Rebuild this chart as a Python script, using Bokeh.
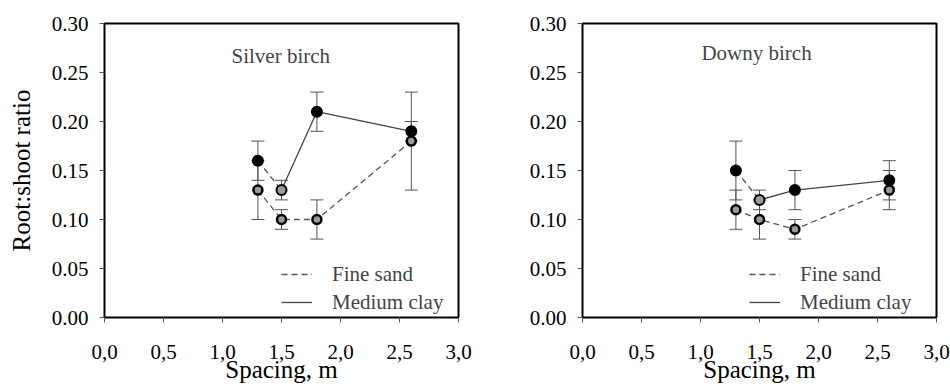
from bokeh.plotting import figure
from bokeh.layouts import row
from bokeh.models import (ColumnDataSource, Whisker, TeeHead, Legend, LegendItem,
                          Label, FixedTicker, CustomJSTickFormatter, Range1d)
from bokeh.embed import file_html
from bokeh.resources import INLINE

# ---- data ----
spacing = [1.3, 1.5, 1.8, 2.6]

silver_fine = [0.13, 0.10, 0.10, 0.18]
silver_fine_err = [0.03, 0.01, 0.02, 0.05]
silver_clay = [0.16, 0.13, 0.21, 0.19]
silver_clay_err = [0.02, 0.01, 0.02, 0.01]

downy_fine = [0.11, 0.10, 0.09, 0.13]
downy_fine_err = [0.02, 0.02, 0.01, 0.02]
downy_clay = [0.15, 0.12, 0.13, 0.14]
downy_clay_err = [0.03, 0.01, 0.02, 0.02]

x_ticks = [0.0, 0.5, 1.0, 1.5, 2.0, 2.5, 3.0]
y_ticks = [0.00, 0.05, 0.10, 0.15, 0.20, 0.25, 0.30]

FONT = "Liberation Serif"
GREY = "#555555"


def make_panel(title, fine, fine_err, clay, clay_err, border_left, border_right,
               ylabel, title_x, title_y, legend_x):
    p = figure(width=475, height=391, output_backend="svg", toolbar_location=None,
               x_range=Range1d(0, 3.0), y_range=Range1d(0, 0.30),
               min_border_left=border_left, min_border_right=border_right,
               min_border_top=23, min_border_bottom=74)
    p.grid.visible = False
    p.outline_line_color = "black"
    p.outline_line_width = 2
    p.background_fill_color = "white"
    p.border_fill_color = "white"

    for ax in (p.xaxis[0], p.yaxis[0]):
        ax.axis_line_color = None
        ax.major_tick_out = 5
        ax.major_tick_in = 0
        ax.major_tick_line_color = GREY
        ax.minor_tick_line_color = None
        ax.major_label_text_font = FONT
        ax.major_label_text_font_size = "21px"
        ax.major_label_text_color = "black"
        ax.axis_label_text_font = FONT
        ax.axis_label_text_font_size = "25px"
        ax.axis_label_text_font_style = "normal"
        ax.axis_label_text_color = "black"

    p.xaxis.ticker = FixedTicker(ticks=x_ticks)
    p.yaxis.ticker = FixedTicker(ticks=y_ticks)
    p.xaxis.formatter = CustomJSTickFormatter(code="return tick.toFixed(1).replace('.', ',');")
    p.yaxis.formatter = CustomJSTickFormatter(code="return tick.toFixed(2);")
    p.xaxis.axis_label = "Spacing, m"
    p.xaxis.axis_label_standoff = -6
    p.xaxis.major_label_standoff = 22
    p.yaxis.major_label_standoff = 11
    if ylabel:
        p.yaxis.axis_label = ylabel
        p.yaxis.axis_label_standoff = 14

    # error bars
    for vals, errs in ((fine, fine_err), (clay, clay_err)):
        src = ColumnDataSource(dict(x=spacing,
                                    upper=[v + e for v, e in zip(vals, errs)],
                                    lower=[v - e for v, e in zip(vals, errs)]))
        w = Whisker(source=src, base="x", upper="upper", lower="lower",
                    line_color=GREY, line_width=1,
                    upper_head=TeeHead(size=13, line_color=GREY, line_width=1),
                    lower_head=TeeHead(size=13, line_color=GREY, line_width=1))
        p.add_layout(w)

    # lines
    fine_line = p.line(spacing, fine, line_color=GREY, line_width=1.3, line_dash="6 4")
    p.line(spacing[:2], clay[:2], line_color=GREY, line_width=1.3, line_dash="6 4")
    clay_line = p.line(spacing[1:], clay[1:], line_color="#444444", line_width=1.3)

    # markers
    p.scatter(spacing, fine, size=9, marker="circle", line_color="black",
              line_width=2.5, fill_color="#9a9a9a")
    clay_fill = ["black", "#9a9a9a", "black", "black"]
    p.scatter(spacing, clay, size=10, marker="circle", line_color="black",
              line_width=2, fill_color=clay_fill)

    legend = Legend(items=[LegendItem(label="Fine sand", renderers=[fine_line]),
                           LegendItem(label="Medium clay", renderers=[clay_line])],
                    location=(legend_x, 2), border_line_color=None,
                    background_fill_alpha=0, label_text_font=FONT,
                    label_text_font_size="21px", glyph_width=31, glyph_height=26,
                    label_standoff=20, spacing=2, padding=0, margin=0,
                    label_height=26)
    p.add_layout(legend)

    p.add_layout(Label(x=title_x, y=title_y, text=title, text_font=FONT,
                       text_font_size="21px", text_baseline="middle",
                       text_align="left"))
    return p


p1 = make_panel("Silver birch", silver_fine, silver_fine_err, silver_clay, silver_clay_err,
                104, 17, "Root:shoot ratio", 1.076, 0.267, 177)
p2 = make_panel("Downy birch", downy_fine, downy_fine_err, downy_clay, downy_clay_err,
                107, 14, None, 1.008, 0.270, 167)

layout = row(p1, p2)
open("out.html", "w").write(file_html(layout, INLINE))
